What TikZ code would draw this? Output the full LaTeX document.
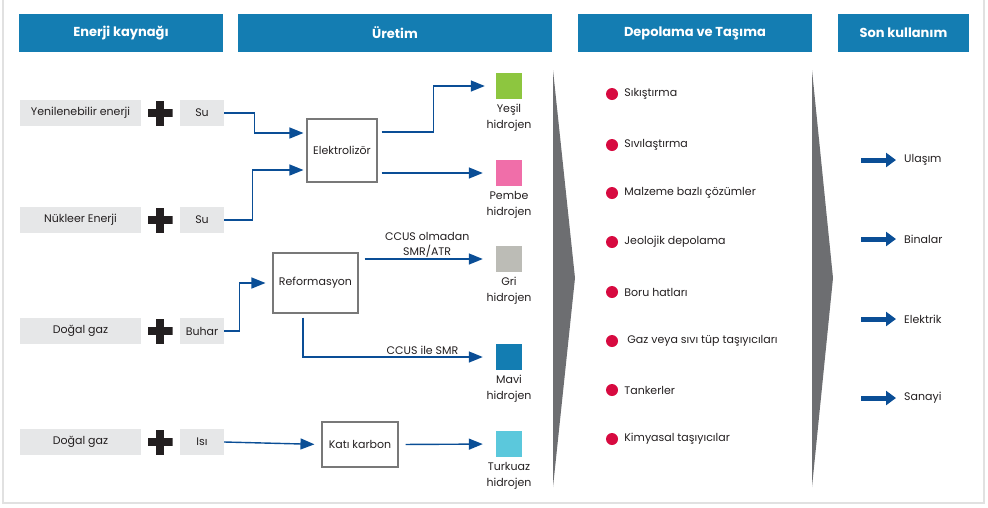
\documentclass[tikz,border=0pt]{standalone}
\usepackage{fontspec}
\setmainfont{Poppins}
\usepackage{tikz}
\usetikzlibrary{positioning,arrows.meta}

\definecolor{headblue}{RGB}{20,125,178}
\definecolor{boxgray}{RGB}{230,231,232}
\definecolor{flowblue}{RGB}{10,78,150}
\definecolor{edgegray}{RGB}{120,120,120}
\definecolor{sepgray}{RGB}{109,110,113}
\definecolor{dotred}{RGB}{215,10,64}
\definecolor{plusblack}{RGB}{35,31,32}
\definecolor{txt}{RGB}{35,31,32}
\definecolor{framegray}{RGB}{225,225,225}
\definecolor{yesilc}{RGB}{141,198,63}
\definecolor{pembec}{RGB}{240,110,169}
\definecolor{gric}{RGB}{188,188,182}
\definecolor{mavic}{RGB}{19,125,178}
\definecolor{turkuazc}{RGB}{91,200,220}

\tikzset{
  header/.style={fill=headblue, text=white, minimum height=38pt, inner sep=0pt,
    font=\bfseries\fontsize{13}{15}\selectfont},
  source/.style={fill=boxgray, minimum height=26pt, inner sep=0pt, text=txt,
    font=\fontsize{11}{13}\selectfont},
  plussign/.style={minimum size=25pt, inner sep=0pt,
    path picture={
      \fill[plusblack] ([yshift=-4pt]path picture bounding box.west) rectangle ([yshift=4pt]path picture bounding box.east);
      \fill[plusblack] ([xshift=-4pt]path picture bounding box.south) rectangle ([xshift=4pt]path picture bounding box.north);
    }},
  process/.style={draw=edgegray, line width=1.1pt, inner sep=0pt, text=txt,
    font=\fontsize{11}{13}\selectfont},
  hsquare/.style={minimum size=26pt, inner sep=0pt},
  hlabel/.style={align=center, inner sep=0pt, text=txt, font=\fontsize{11}{15.5}\selectfont},
  flow/.style={draw=flowblue, line width=1.4pt, -{Triangle[length=14pt,width=11pt]}},
  flowlabel/.style={text=txt, inner sep=1pt, align=center, font=\fontsize{11}{15}\selectfont},
  dot/.style={circle, fill=dotred, minimum size=12pt, inner sep=0pt},
  item/.style={inner sep=0pt, text=txt, font=\fontsize{11}{13}\selectfont},
  useflow/.style={draw=flowblue, line width=5pt, -{Triangle[length=10pt,width=14pt]}}
}

\begin{document}
\begin{tikzpicture}[x=1pt, y=-1pt]
\useasboundingbox (0,0) rectangle (988,507);
\draw[framegray, line width=1.5pt] (3,0) -- (3,503) -- (984,503) -- (984,0);

% headers
\node[header, minimum width=204pt] (kaynak) at (121,33) {Enerji kaynağı};
\node[header, minimum width=314pt] (uretim) at (395,33) {Üretim};
\node[header, minimum width=234pt] (depolama) at (695,33) {Depolama ve Taşıma};
\node[header, minimum width=131pt] (kullanim) at (903.5,33) {Son kullanım};

% separators
\fill[sepgray] (553,70) -- (575,278) -- (553,487) -- cycle;
\fill[sepgray] (812,70) -- (833,278) -- (812,487) -- cycle;

% sources
\node[source, minimum width=121pt] (yenilenebilir) at (80.5,113) {Yenilenebilir enerji};
\node[plussign] (plus1) at (160,113) {};
\node[source, minimum width=44pt] (su1) at (202,113) {Su};
\node[source, minimum width=121pt] (nukleer) at (80.5,220) {Nükleer Enerji};
\node[plussign] (plus2) at (160,220) {};
\node[source, minimum width=44pt] (su2) at (202,220) {Su};
\node[source, minimum width=121pt] (gaz1) at (80.5,331) {Doğal gaz};
\node[plussign] (plus3) at (160,331) {};
\node[source, minimum width=44pt] (buhar) at (202,331) {Buhar};
\node[source, minimum width=121pt] (gaz2) at (80.5,442) {Doğal gaz};
\node[plussign] (plus4) at (160,442) {};
\node[source, minimum width=44pt] (isi) at (202,442) {Isı};

% processes
\node[process, minimum width=70pt, minimum height=63pt] (elektrolizor) at (342,150.5) {Elektrolizör};
\node[process, minimum width=85pt, minimum height=60pt] (reformasyon) at (315.5,283) {Reformasyon};
\node[process, minimum width=76pt, minimum height=45pt] (katikarbon) at (360,444.5) {Katı karbon};

% hydrogen colours
\node[hsquare, fill=yesilc] (yesil) at (509,86) {};
\node[hsquare, fill=pembec] (pembe) at (509,173) {};
\node[hsquare, fill=gric] (gri) at (509,259) {};
\node[hsquare, fill=mavic] (mavi) at (509,357) {};
\node[hsquare, fill=turkuazc] (turkuaz) at (509,444) {};
\node[hlabel, below=5pt of yesil] (yesiltxt) {Yeşil\\hidrojen};
\node[hlabel, below=5pt of pembe] (pembetxt) {Pembe\\hidrojen};
\node[hlabel, below=5pt of gri] (gritxt) {Gri\\hidrojen};
\node[hlabel, below=5pt of mavi] (mavitxt) {Mavi\\hidrojen};
\node[hlabel, below=5pt of turkuaz] (turkuaztxt) {Turkuaz\\hidrojen};

% flows
\draw[flow, shorten >=3pt] (su1.east) -- ++(30,0) |- ([yshift=17.5pt]elektrolizor.west);
\draw[flow, shorten >=3pt] (su2.east) -- ++(28,0) |- ([yshift=-19.5pt]elektrolizor.west);
\draw[flow, shorten >=11pt] ([xshift=4pt,yshift=18.5pt]elektrolizor.east) -- ++(52,0) |- (yesil.west);
\draw[flow, shorten >=13pt] ([xshift=4pt,yshift=-22.5pt]elektrolizor.east) -- (pembe.west);
\draw[flow, shorten >=7pt] (buhar.east) -- ++(15,0) |- (reformasyon.west);
\draw[flow, shorten >=13pt, shorten <=6pt] (reformasyon.east |- gri.west) -- node[flowlabel, above=0pt] {CCUS olmadan\\SMR/ATR} (gri.west);
\draw[flow, shorten >=13pt, shorten <=4pt] ([xshift=-12.5pt]reformasyon.south) |- node[flowlabel, above=1pt, pos=0.81] {CCUS ile SMR} (mavi.west);
\draw[flow, shorten >=7pt] (isi.east) -- (katikarbon.west);
\draw[flow, shorten >=13pt, shorten <=7pt] (katikarbon.east) -- (turkuaz.west);

% storage and transport
\node[dot] (d1) at (612,94) {};
\node[item, right=6pt of d1] (sikistirma) {Sıkıştırma};
\node[dot] (d2) at (612,145) {};
\node[item, right=6pt of d2] (sivilastirma) {Sıvılaştırma};
\node[dot] (d3) at (612,193) {};
\node[item, right=6pt of d3] (malzeme) {Malzeme bazlı çözümler};
\node[dot] (d4) at (612,242) {};
\node[item, right=6pt of d4] (jeolojik) {Jeolojik depolama};
\node[dot] (d5) at (612,292) {};
\node[item, right=6pt of d5] (boru) {Boru hatları};
\node[dot] (d6) at (612,341) {};
\node[item, right=9pt of d6] (tup) {Gaz veya sıvı tüp taşıyıcıları};
\node[dot] (d7) at (612,390) {};
\node[item, right=6pt of d7] (tanker) {Tankerler};
\node[dot] (d8) at (612,439) {};
\node[item, right=6pt of d8] (kimyasal) {Kimyasal taşıyıcılar};

% end use
\node[item, anchor=west] (ulasim) at (904,160) {Ulaşım};
\node[item, anchor=west] (binalar) at (904,239) {Binalar};
\node[item, anchor=west] (elektrik) at (904,319) {Elektrik};
\node[item, anchor=west] (sanayi) at (904,398) {Sanayi};
\draw[useflow] ([xshift=-43pt]ulasim.west) -- ([xshift=-8pt]ulasim.west);
\draw[useflow] ([xshift=-43pt]binalar.west) -- ([xshift=-8pt]binalar.west);
\draw[useflow] ([xshift=-43pt]elektrik.west) -- ([xshift=-8pt]elektrik.west);
\draw[useflow] ([xshift=-43pt]sanayi.west) -- ([xshift=-8pt]sanayi.west);
\end{tikzpicture}
\end{document}
